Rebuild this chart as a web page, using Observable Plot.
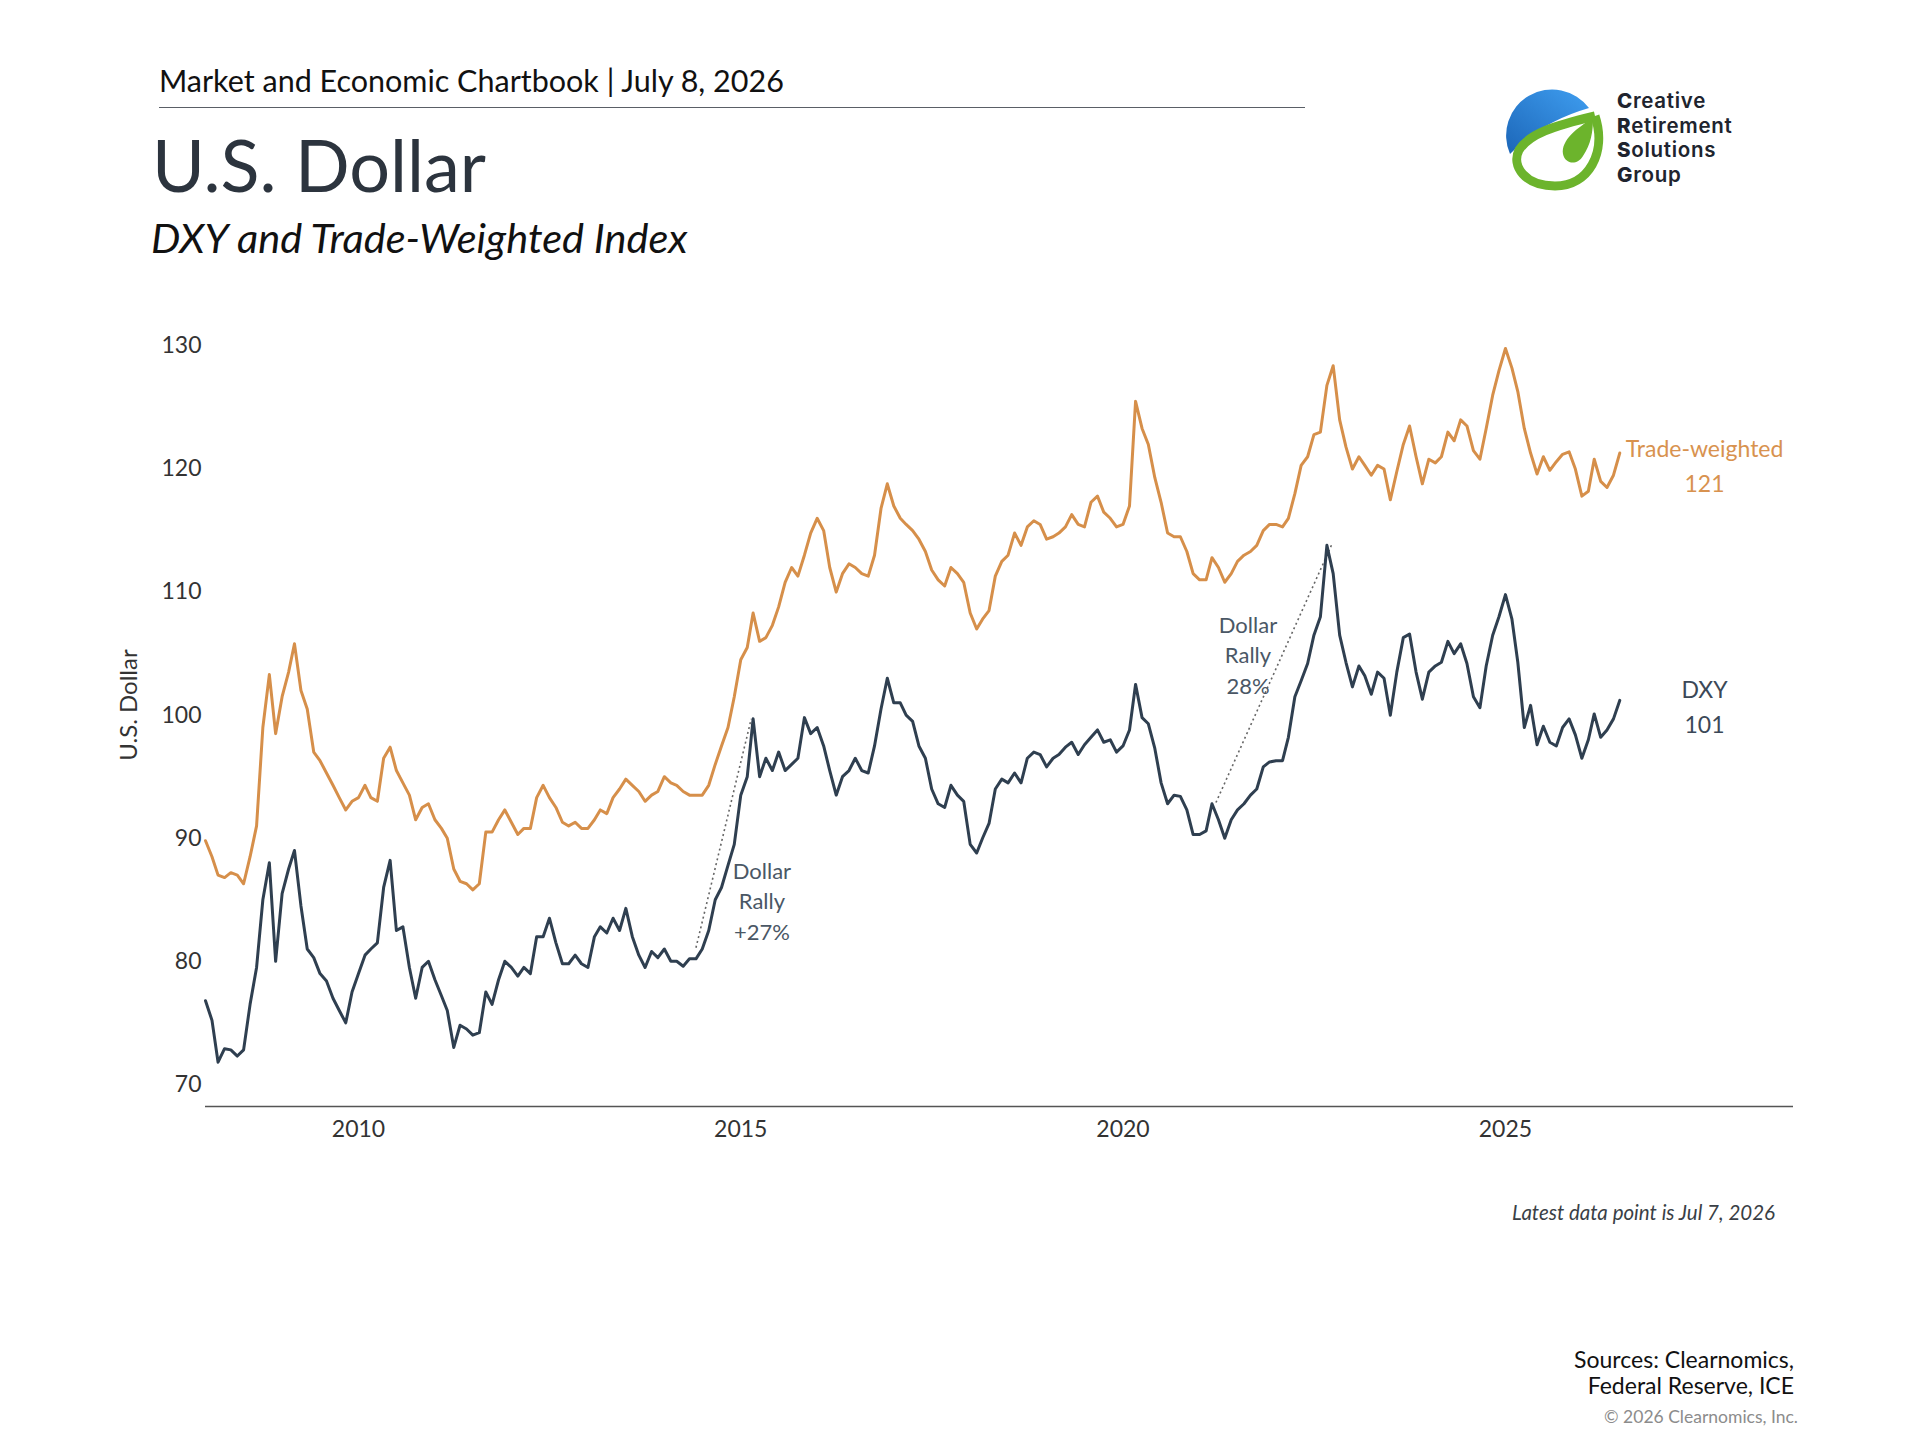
<!DOCTYPE html>
<html>
<head>
<meta charset="utf-8">
<script src="https://cdn.jsdelivr.net/npm/d3@7"></script>
<script src="https://cdn.jsdelivr.net/npm/@observablehq/plot@0.6"></script>
<style>
  html, body { margin: 0; padding: 0; background: #fff; }
  body { width: 1920px; height: 1440px; position: relative; font-family: Lato, "Open Sans", sans-serif; overflow: hidden; }
  .abs { position: absolute; white-space: nowrap; }
  #kicker { left: 159px; top: 62px; font-size: 30.5px; color: #111; line-height: 36px; }
  #rule { left: 159px; top: 107px; width: 1146px; height: 0; border-top: 1.5px solid #5a5f66; }
  #title { left: 152px; top: 122px; font-size: 72px; color: #2c343e; line-height: 84px; }
  #subtitle { left: 151px; top: 213px; font-size: 41.5px; font-style: italic; color: #111; line-height: 48px; }
  #ylabel { left: 127px; top: 705px; transform: translate(-50%, -50%) rotate(-90deg); font-size: 24px; color: #333; }
  #chart { left: 0; top: 300px; }
  #latest { right: 145px; top: 1200px; font-size: 20.5px; font-style: italic; color: #3a3f46; }
  .src { right: 126px; font-size: 23px; color: #111; line-height: 26px; }
  #copy { right: 122px; top: 1406px; font-size: 17.5px; color: #8c8c8c; }
  #logo { left: 1503px; top: 86px; }
  .lt { left: 1617px; font-family: Inter, Roboto, sans-serif; font-size: 20.5px; font-weight: 600; line-height: 24px; height: 24px; color: #20242e; letter-spacing: 0.7px; }
  .lt b { font-weight: 800; }
</style>
</head>
<body>
<div id="kicker" class="abs">Market and Economic Chartbook | July 8, 2026</div>
<div id="rule" class="abs"></div>
<div id="title" class="abs">U.S. Dollar</div>
<div id="subtitle" class="abs">DXY and Trade-Weighted Index</div>
<div id="ylabel" class="abs">U.S. Dollar</div>

<svg id="logo" class="abs" width="104" height="106" viewBox="0 0 104 106">
  <defs>
    <linearGradient id="bl" x1="0" y1="1" x2="1" y2="0">
      <stop offset="0" stop-color="#1c66b8"/>
      <stop offset="1" stop-color="#3f9ef0"/>
    </linearGradient>
  </defs>
  <path d="M 7,68 A 46 46 0 0 1 86,22 Q 38,36 7,68 Z" fill="url(#bl)"/>
  <path d="M 92,30 C 104,66 86,100 52,100 C 22,100 8,80 16,64 C 26,48 50,40 92,30" fill="none" stroke="#6cb42c" stroke-width="9"/>
  <path d="M 90,32 C 74,42 58,54 60,68 C 62,78 74,80 80,70 C 88,58 90,46 90,32 Z" fill="#6cb42c"/>
</svg>
<div class="abs lt" style="top:89px"><b>C</b>reative</div>
<div class="abs lt" style="top:113.5px"><b>R</b>etirement</div>
<div class="abs lt" style="top:138px"><b>S</b>olutions</div>
<div class="abs lt" style="top:162.5px"><b>G</b>roup</div>

<div id="chart" class="abs"></div>

<div id="latest" class="abs">Latest data point is Jul 7, 2026</div>
<div class="abs src" style="top:1346px">Sources: Clearnomics,</div>
<div class="abs src" style="top:1372px">Federal Reserve, ICE</div>
<div id="copy" class="abs">© 2026 Clearnomics, Inc.</div>

<script>
// ---- Data (monthly, Jan 2008 – Jul 2026) ----
const firstMonth = "2008-01-01";
const lastMonth = "2026-07-01";

const dxy = [
  76.8, 75.2, 71.8, 72.9, 72.8, 72.3, 72.8, 76.5, 79.5, 85.0, 88.0, 80.0,   // 2008
  85.5, 87.5, 89.0, 84.5, 81.0, 80.3, 79.0, 78.4, 77.0, 76.0, 75.0, 77.5,   // 2009
  79.0, 80.5, 81.0, 81.5, 86.0, 88.2, 82.5, 82.8, 79.5, 77.0, 79.5, 80.0,   // 2010
  78.5, 77.2, 76.0, 73.0, 74.8, 74.5, 74.0, 74.2, 77.5, 76.5, 78.5, 80.0,   // 2011
  79.5, 78.8, 79.5, 79.0, 82.0, 82.0, 83.5, 81.5, 79.8, 79.8, 80.5, 79.8,   // 2012
  79.5, 82.0, 82.8, 82.3, 83.5, 82.5, 84.3, 82.0, 80.5, 79.5, 80.8, 80.3,   // 2013
  81.0, 80.0, 80.0, 79.6, 80.2, 80.2, 81.0, 82.5, 85.0, 86.0, 87.8, 89.5,   // 2014
  93.5, 95.0, 99.7, 95.0, 96.5, 95.5, 97.0, 95.5, 96.0, 96.5, 99.8, 98.5,   // 2015
  99.0, 97.5, 95.5, 93.5, 95.0, 95.5, 96.5, 95.5, 95.3, 97.5, 100.5, 103.0, // 2016
  101.0, 101.0, 100.0, 99.5, 97.5, 96.5, 94.0, 92.8, 92.5, 94.3, 93.5, 93.0, // 2017
  89.5, 88.8, 90.0, 91.2, 94.0, 94.8, 94.5, 95.3, 94.5, 96.5, 97.0, 96.8,   // 2018
  95.8, 96.5, 96.8, 97.4, 97.8, 96.8, 97.6, 98.2, 98.8, 97.8, 98.0, 97.0,   // 2019
  97.5, 98.8, 102.5, 99.8, 99.3, 97.3, 94.5, 92.8, 93.5, 93.4, 92.3, 90.3,  // 2020
  90.3, 90.6, 92.8, 91.5, 90.0, 91.5, 92.3, 92.8, 93.5, 94.0, 95.8, 96.2,   // 2021
  96.3, 96.3, 98.2, 101.5, 102.8, 104.2, 106.5, 108.0, 113.8, 111.5, 106.5, 104.3, // 2022
  102.3, 104.0, 103.2, 101.7, 103.5, 103.0, 100.0, 103.5, 106.3, 106.6, 103.5, 101.3, // 2023
  103.5, 104.0, 104.3, 106.0, 105.0, 105.8, 104.2, 101.5, 100.6, 104.0, 106.5, 108.0, // 2024
  109.8, 107.8, 104.3, 99.0, 100.8, 97.6, 99.1, 97.8, 97.5, 99.0, 99.7, 98.4,  // 2025
  96.5, 98.0, 100.1, 98.2, 98.8, 99.7, 101.2                                // 2026
];

const tradeWeighted = [
  89.8, 88.5, 87.0, 86.8, 87.2, 87.0, 86.3, 88.5, 91.0, 99.0, 103.3, 98.5,  // 2008
  101.5, 103.5, 105.8, 102.0, 100.5, 97.0, 96.3, 95.3, 94.3, 93.3, 92.3, 93.0, // 2009
  93.3, 94.3, 93.3, 93.0, 96.5, 97.4, 95.5, 94.5, 93.5, 91.5, 92.5, 92.8,   // 2010
  91.5, 90.8, 90.0, 87.5, 86.5, 86.3, 85.8, 86.3, 90.5, 90.5, 91.5, 92.3,   // 2011
  91.3, 90.3, 90.8, 90.8, 93.3, 94.3, 93.3, 92.5, 91.3, 91.0, 91.3, 90.8,   // 2012
  90.8, 91.5, 92.3, 92.0, 93.3, 94.0, 94.8, 94.3, 93.8, 93.0, 93.5, 93.8,   // 2013
  95.0, 94.5, 94.3, 93.8, 93.5, 93.5, 93.5, 94.3, 96.0, 97.5, 99.0, 101.5,  // 2014
  104.5, 105.5, 108.3, 106.0, 106.3, 107.3, 108.8, 110.8, 112.0, 111.3, 113.0, 114.8, // 2015
  116.0, 115.0, 112.0, 110.0, 111.5, 112.3, 112.0, 111.5, 111.3, 113.0, 116.8, 118.8, // 2016
  117.0, 116.0, 115.5, 115.0, 114.3, 113.3, 111.8, 111.0, 110.5, 112.0, 111.5, 110.8, // 2017
  108.3, 107.0, 107.8, 108.5, 111.3, 112.5, 113.0, 114.8, 113.8, 115.3, 115.8, 115.5, // 2018
  114.3, 114.5, 114.8, 115.3, 116.3, 115.5, 115.3, 117.3, 117.8, 116.5, 116.0, 115.3, // 2019
  115.5, 117.0, 125.5, 123.3, 122.0, 119.3, 117.3, 114.8, 114.5, 114.5, 113.3, 111.5, // 2020
  111.0, 111.0, 112.8, 112.0, 110.8, 111.5, 112.5, 113.0, 113.3, 113.8, 115.0, 115.5, // 2021
  115.5, 115.3, 116.0, 118.0, 120.3, 121.0, 122.8, 123.0, 126.8, 128.4, 124.0, 121.8, // 2022
  120.0, 121.0, 120.3, 119.5, 120.3, 120.0, 117.5, 119.8, 122.0, 123.5, 121.0, 118.8, // 2023
  120.8, 120.5, 121.0, 123.0, 122.3, 124.0, 123.5, 121.5, 120.8, 123.3, 126.0, 128.0, // 2024
  129.8, 128.2, 126.3, 123.3, 121.3, 119.6, 121.0, 119.9, 120.6, 121.2, 121.4, 120.0, // 2025
  117.8, 118.2, 120.8, 119.0, 118.5, 119.5, 121.3                                // 2026
];

const yTicks = [70, 80, 90, 100, 110, 120, 130];
const xTickYears = ["2010-01-01", "2015-01-01", "2020-01-01", "2025-01-01"];
const xDomain = ["2008-01-01", "2028-10-08"];
const yDomain = [68.2, 130];

// end-of-line labels
const endLabels = [
  {date: "2027-08-10", value: 120.5, text: "Trade-weighted\n121", series: "tw"},
  {date: "2027-08-10", value: 100.9, text: "DXY\n101", series: "dxy"}
];
// rally annotations
const rallyStartDate = ["2014-06-01", "2021-03-20"];
const rallyStartValue = [81.1, 92.9];
const rallyEndDate = ["2015-02-20", "2022-09-25"];
const rallyEndValue = [99.7, 113.9];
const rallyLabelDate = ["2015-04-12", "2021-08-20"];
const rallyLabelValue = [85.0, 105.0];
const rallyLabelText = ["Dollar\nRally\n+27%", "Dollar\nRally\n28%"];

// ---- Build tables ----
const months = d3.utcMonth.range(new Date(firstMonth), d3.utcMonth.offset(new Date(lastMonth), 1));
const dxyData = months.map((d, i) => ({date: d, value: dxy[i]}));
const twData = months.map((d, i) => ({date: d, value: tradeWeighted[i]}));
const rallies = rallyStartDate.map((d, i) => ({
  x1: new Date(d), y1: rallyStartValue[i], x2: new Date(rallyEndDate[i]), y2: rallyEndValue[i],
  lx: new Date(rallyLabelDate[i]), ly: rallyLabelValue[i], text: rallyLabelText[i]
}));
const labels = endLabels.map(d => ({...d, date: new Date(d.date)}));

const ORANGE = "#d68f4a";
const DARK = "#2f3f50";

const chart = Plot.plot({
  width: 1920,
  height: 860,
  marginLeft: 205,
  marginRight: 127,
  marginTop: 45.5,
  marginBottom: 54,
  style: {fontFamily: "Lato, 'Open Sans', sans-serif", background: "transparent"},
  x: {type: "utc", domain: xDomain.map(d => new Date(d))},
  y: {domain: yDomain},
  marks: [
    Plot.axisY({ticks: yTicks, tickSize: 0, tickPadding: 4, fontSize: 23, color: "#333", label: null}),
    Plot.axisX({ticks: xTickYears.map(d => new Date(d)), tickFormat: d3.utcFormat("%Y"), tickSize: 0, tickPadding: 14, fontSize: 23, color: "#333", label: null}),
    Plot.ruleY([yDomain[0]], {stroke: "#555", strokeWidth: 1.6}),
    Plot.link(rallies, {x1: "x1", y1: "y1", x2: "x2", y2: "y2", stroke: "#666", strokeWidth: 1.6, strokeDasharray: "2,3"}),
    Plot.line(twData, {x: "date", y: "value", stroke: ORANGE, strokeWidth: 3, strokeLinejoin: "round"}),
    Plot.line(dxyData, {x: "date", y: "value", stroke: DARK, strokeWidth: 3, strokeLinejoin: "round"}),
    Plot.text(rallies, {x: "lx", y: "ly", text: "text", fill: "#4a5765", fontSize: 22, lineHeight: 1.38, textAnchor: "middle"}),
    Plot.text(labels, {x: "date", y: "value", text: "text", fill: d => d.series === "tw" ? "#d8924f" : "#3b4857", fontSize: 23, lineHeight: 1.52, textAnchor: "middle"})
  ]
});
document.getElementById("chart").appendChild(chart);
</script>
</body>
</html>
